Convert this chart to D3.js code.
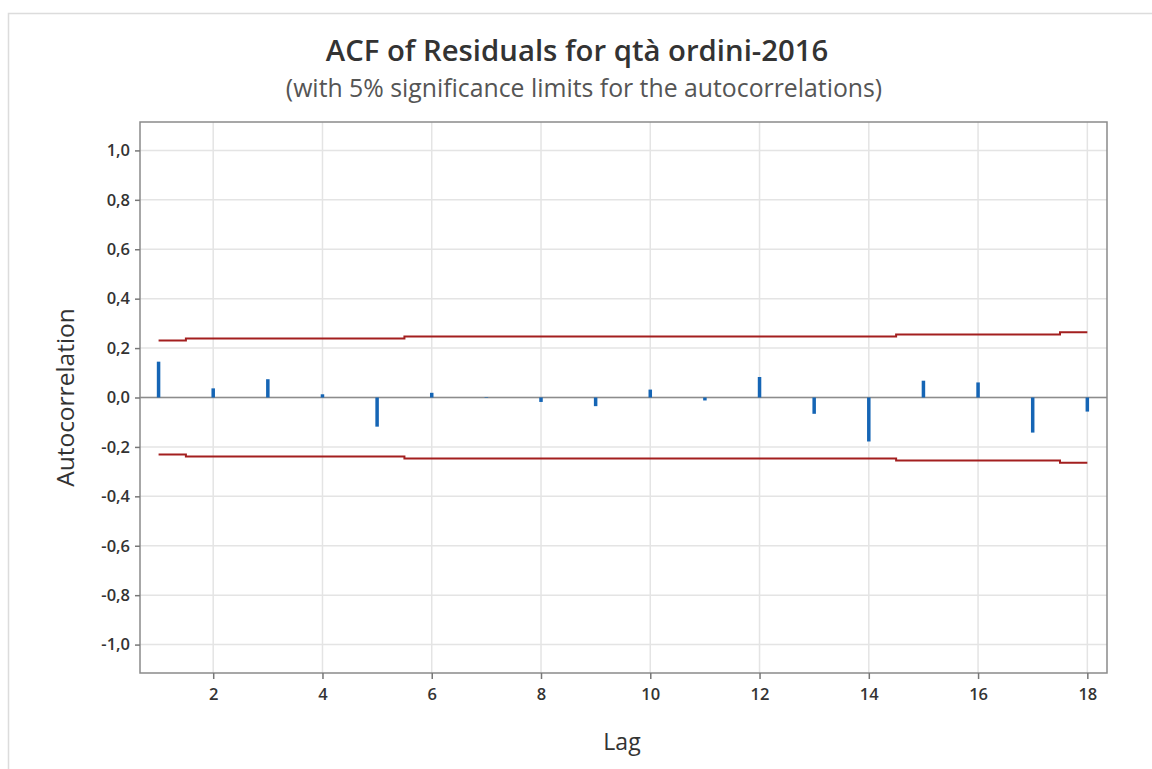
<!DOCTYPE html>
<html>
<head>
<meta charset="utf-8">
<script src="https://cdn.jsdelivr.net/npm/d3@7"></script>
<style>
  html, body { margin: 0; padding: 0; background: #fff; }
  svg { display: block; }
  text { font-family: "Open Sans", "Noto Sans", sans-serif; }
</style>
</head>
<body>
<svg id="chart" width="1152" height="769"></svg>
<script>
// Residual autocorrelations by lag
const lags = [1, 2, 3, 4, 5, 6, 7, 8, 9, 10, 11, 12, 13, 14, 15, 16, 17, 18];
const acf = [0.145, 0.037, 0.074, 0.013, -0.118, 0.019, 0.002, -0.018, -0.035,
             0.032, -0.012, 0.083, -0.066, -0.178, 0.068, 0.061, -0.142, -0.057];
// 5% significance limit (±) at each lag
const limits = [0.231, 0.239, 0.239, 0.239, 0.239, 0.247, 0.247, 0.247, 0.247,
                0.247, 0.247, 0.247, 0.247, 0.247, 0.255, 0.255, 0.255, 0.264];

const xTicks = [2, 4, 6, 8, 10, 12, 14, 16, 18];
const yTicks = [-1.0, -0.8, -0.6, -0.4, -0.2, 0.0, 0.2, 0.4, 0.6, 0.8, 1.0];

const titleText = "ACF of Residuals for qtà ordini-2016";
const subtitleText = "(with 5% significance limits for the autocorrelations)";
const xLabel = "Lag";
const yLabel = "Autocorrelation";

const svg = d3.select("#chart");
const W = 1152, H = 769;
const plot = { left: 140, top: 122, right: 1107, bottom: 673 };

const locale = d3.formatLocale({ decimal: ",", thousands: ".", grouping: [3], currency: ["", "€"], minus: "-" });
const fmt = locale.format(".1f");

const x = d3.scaleLinear().domain([0.66, 18.36]).range([plot.left, plot.right]);
const y = d3.scaleLinear().domain([-1.115, 1.115]).range([plot.bottom, plot.top]);

// outer frame
svg.append("rect")
  .attr("x", 8.5).attr("y", 13.5)
  .attr("width", W + 20).attr("height", H + 20)
  .attr("fill", "#fff").attr("stroke", "#dcdcdc").attr("stroke-width", 1.5);

// gridlines
const grid = svg.append("g");
grid.selectAll("line.gy").data(yTicks).join("line")
  .attr("x1", plot.left).attr("x2", plot.right)
  .attr("y1", d => y(d)).attr("y2", d => y(d))
  .attr("stroke", "#e4e4e4").attr("stroke-width", 1.5);
grid.selectAll("line.gx").data(xTicks).join("line")
  .attr("y1", plot.top).attr("y2", plot.bottom)
  .attr("x1", d => x(d)).attr("x2", d => x(d))
  .attr("stroke", "#e4e4e4").attr("stroke-width", 1.5);

// zero reference line
svg.append("line")
  .attr("x1", plot.left).attr("x2", plot.right)
  .attr("y1", y(0)).attr("y2", y(0))
  .attr("stroke", "#8c8c8c").attr("stroke-width", 1.5);

// significance limits
const limitLine = d3.line().x(d => x(d[0])).y(d => y(d[1])).curve(d3.curveStep);
const upper = lags.map((l, i) => [l, limits[i]]);
const lower = lags.map((l, i) => [l, -limits[i]]);
svg.selectAll("path.limit").data([upper, lower]).join("path")
  .attr("class", "limit")
  .attr("d", limitLine)
  .attr("fill", "none").attr("stroke", "#a31f1f").attr("stroke-width", 2);

// autocorrelation spikes
svg.selectAll("rect.bar").data(lags).join("rect")
  .attr("class", "bar")
  .attr("x", d => x(d) - 1.75)
  .attr("width", 3.5)
  .attr("y", (d, i) => y(Math.max(0, acf[i])))
  .attr("height", (d, i) => Math.abs(y(acf[i]) - y(0)))
  .attr("fill", "#1565b5");

// plot frame
svg.append("rect")
  .attr("x", plot.left).attr("y", plot.top)
  .attr("width", plot.right - plot.left).attr("height", plot.bottom - plot.top)
  .attr("fill", "none").attr("stroke", "#8a8a8a").attr("stroke-width", 1.5);

// axes
const yAxis = svg.append("g")
  .attr("transform", `translate(${plot.left},0)`)
  .call(d3.axisLeft(y).tickValues(yTicks).tickFormat(fmt).tickSize(5).tickPadding(5));
const xAxis = svg.append("g")
  .attr("transform", `translate(0,${plot.bottom})`)
  .call(d3.axisBottom(x).tickValues(xTicks).tickFormat(d3.format("d")).tickSize(6).tickPadding(9));
[yAxis, xAxis].forEach(g => {
  g.select(".domain").remove();
  g.selectAll(".tick line").attr("stroke", "#777").attr("stroke-width", 1.5);
  g.selectAll(".tick text")
    .attr("fill", "#333")
    .style("font-size", "16.5px")
    .style("font-weight", 600)
    .style("font-family", "'Open Sans', sans-serif");
});

// titles
svg.append("text")
  .attr("x", 577).attr("y", 61)
  .attr("text-anchor", "middle")
  .attr("fill", "#333")
  .style("font-size", "29.3px").style("font-weight", 600)
  .text(titleText);
svg.append("text")
  .attr("x", 584).attr("y", 97)
  .attr("text-anchor", "middle")
  .attr("fill", "#555")
  .style("font-size", "24.8px")
  .text(subtitleText);

svg.append("text")
  .attr("x", 622).attr("y", 750)
  .attr("text-anchor", "middle")
  .attr("fill", "#333")
  .style("font-size", "23px")
  .text(xLabel);
svg.append("text")
  .attr("transform", `translate(74,${(plot.top + plot.bottom) / 2}) rotate(-90)`)
  .attr("text-anchor", "middle")
  .attr("fill", "#333")
  .style("font-size", "24.5px")
  .text(yLabel);
</script>
</body>
</html>
